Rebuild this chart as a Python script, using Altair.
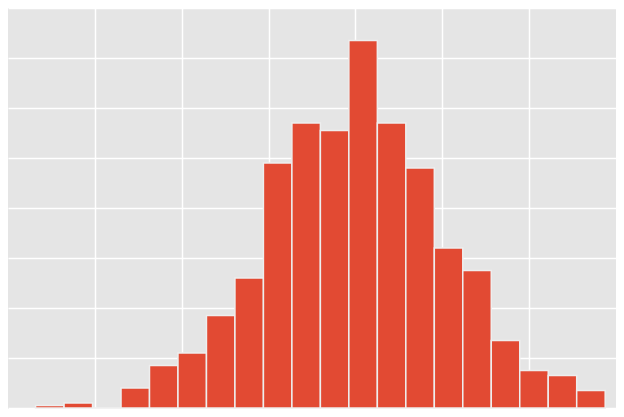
import altair as alt
import pandas as pd

# Histogram of 1000 samples, 20 equal-width bins
bin_start = -3.6825
bin_width = 0.3279
counts = [1, 2, 0, 8, 17, 22, 37, 52, 98, 114, 111, 147, 114, 96, 64, 55, 27, 15, 13, 7]

x_ticks = [-3, -2, -1, 0, 1, 2]
y_ticks = [0, 20, 40, 60, 80, 100, 120, 140, 160]

df = pd.DataFrame({
    "lo": [bin_start + i * bin_width for i in range(len(counts))],
    "hi": [bin_start + (i + 1) * bin_width for i in range(len(counts))],
    "count": counts,
})

BG = "#E5E5E5"

chart = (
    alt.Chart(df)
    .mark_bar(color="#E24A33", stroke="#EEEEEE", strokeWidth=1.5)
    .encode(
        x=alt.X("lo:Q",
                scale=alt.Scale(domain=[-4.0, 3.0], nice=False, zero=False),
                axis=alt.Axis(values=x_ticks, labels=False, ticks=False, domain=False,
                              title=None, grid=True, gridColor="white", gridWidth=1.5)),
        x2="hi:Q",
        y=alt.Y("count:Q",
                scale=alt.Scale(domain=[0, 160], nice=False),
                axis=alt.Axis(values=y_ticks, labels=False, ticks=False, domain=False,
                              title=None, grid=True, gridColor="white", gridWidth=1.5)),
        y2=alt.datum(0),
    )
    .properties(
        width=608,
        height=400,
        padding={"left": 0, "top": 0, "right": 0, "bottom": 1},
        autosize="none",
        background=BG,
    )
    .configure_view(strokeWidth=0, fill=BG)
)

chart.save("out.html", embed_options={"renderer": "svg", "actions": False})
